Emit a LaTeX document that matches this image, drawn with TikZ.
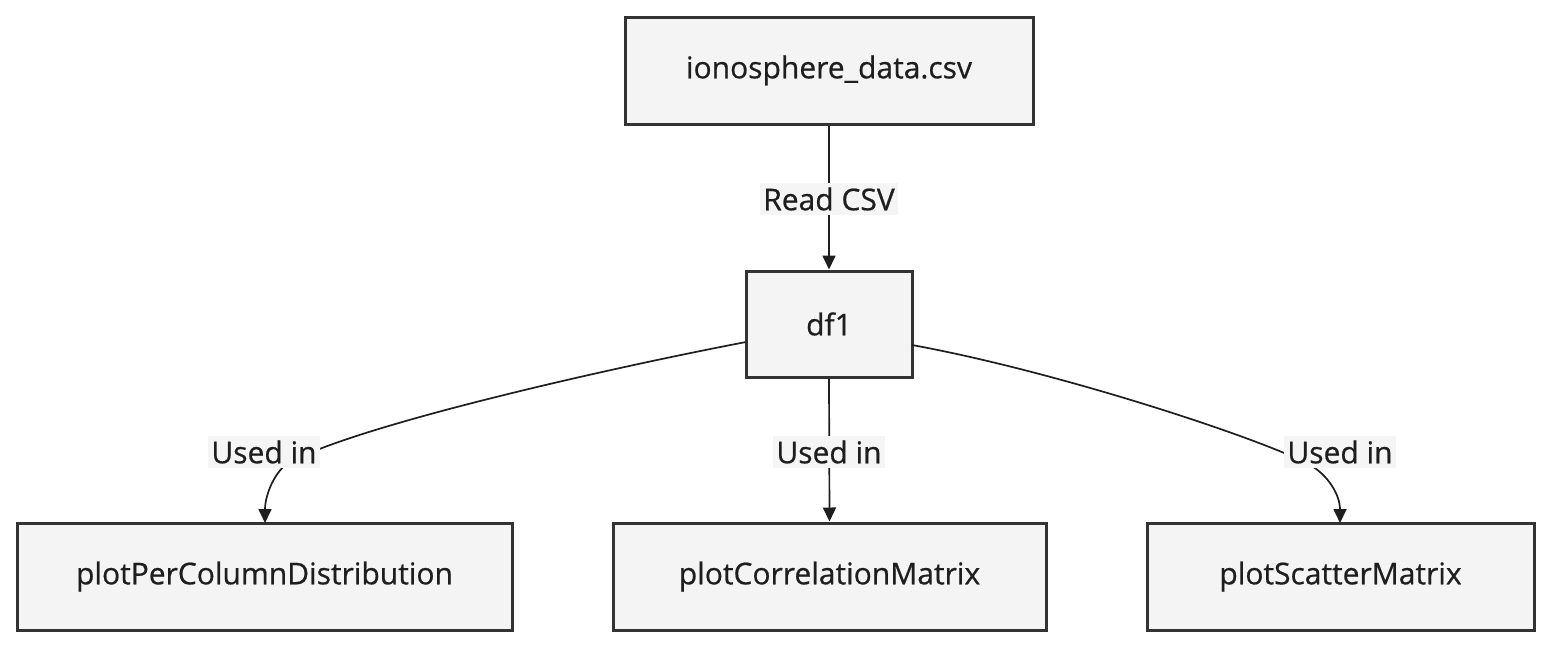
\documentclass[tikz,border=0pt]{standalone}
\usepackage{fontspec}
\setmainfont{Open Sans}[FakeBold=0.6]
\usetikzlibrary{arrows.meta,calc}
\definecolor{boxfill}{RGB}{244,244,244}
\definecolor{ink}{RGB}{30,30,30}
\definecolor{edge}{RGB}{51,51,51}
\definecolor{lblfill}{RGB}{245,245,245}
\definecolor{hatch}{RGB}{252,252,252}
\tikzset{
  procbox/.style={draw=edge, line width=3pt, fill=boxfill, text=ink,
    inner sep=0pt, anchor=center,
    path picture={\foreach \k in {-60,...,60}{\draw[hatch, line width=1.5pt]
      ($(path picture bounding box.south west)+(\k*14pt,0)$) -- ++(300pt,-300pt);}}},
  conn/.style={draw=ink, line width=1.7pt, -{Triangle[width=13pt,length=14pt]}},
  lbl/.style={fill=lblfill, text=ink, inner xsep=3pt, inner ysep=4pt},
}
\begin{document}
\begin{tikzpicture}[x=1pt,y=-1pt]
\fontsize{30}{34}\selectfont
\useasboundingbox[fill=white] (0,0) rectangle (1568,656);
% boxes
\node[procbox, minimum width=408pt, minimum height=107pt] (csv) at (829,70.5) {ionosphere\_data.csv};
\node[procbox, minimum width=166pt, minimum height=106pt] (df) at (829,324) {df1};
\node[procbox, minimum width=495pt, minimum height=107pt] (ppc) at (264.5,576.5) {plotPerColumnDistribution};
\node[procbox, minimum width=433pt, minimum height=107pt] (pcm) at (829.5,576.5) {plotCorrelationMatrix};
\node[procbox, minimum width=387pt, minimum height=107pt] (psm) at (1340.5,576.5) {plotScatterMatrix};
% helper coordinates
\coordinate (dfl) at (746,342);
\coordinate (dfr) at (912,345);
\coordinate (lm) at (290,462);
\coordinate (rm) at (1310,465);
\coordinate (ppctop) at (265,523);
\coordinate (psmtop) at (1340,523);
% connectors
\draw[conn] (csv.south) -- (df.north);
\draw[conn] (df.south) -- (pcm.north);
\draw[conn] (dfl) .. controls (600,370) and (360,425) .. (lm)
  .. controls (275,470) and (265,495) .. (ppctop);
\draw[conn] (dfr) .. controls (1060,372) and (1265,440) .. (rm)
  .. controls (1328,475) and (1340,495) .. (psmtop);
% labels
\node[lbl] (l0) at (829,199) {Read CSV};
\node[lbl] (l1) at (264,452) {Used in};
\node[lbl] (l2) at (829,452) {Used in};
\node[lbl] (l3) at (1340,452) {Used in};
\end{tikzpicture}
\end{document}
